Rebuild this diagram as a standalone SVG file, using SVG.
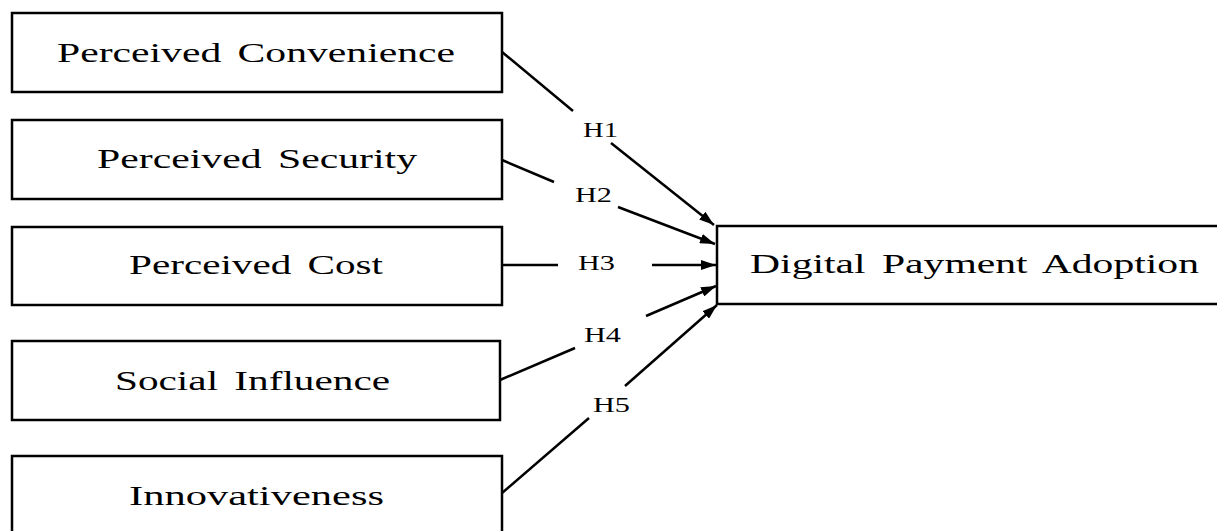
<svg xmlns="http://www.w3.org/2000/svg" width="1217" height="531" viewBox="0 0 1217 531">
<defs>
<style>
.box{fill:#fff;stroke:#000;stroke-width:2.5}
.lbl{font-family:"Liberation Serif","Times New Roman",serif;font-size:28px;word-spacing:4px;fill:#000}
.h{font-family:"Liberation Serif","Times New Roman",serif;font-size:21px;fill:#000}
.ln{stroke:#000;stroke-width:2.5;fill:none}
</style>
<marker id="arr" viewBox="0 0 15 10" refX="15" refY="5" markerWidth="15" markerHeight="10" markerUnits="userSpaceOnUse" orient="auto">
<path d="M0,0 L15,5 L0,10 Z" fill="#000"/>
</marker>
</defs>
<rect width="1217" height="531" fill="#fff"/>
<g id="node-convenience">
<rect class="box" x="12" y="13" width="490" height="79"/>
<text class="lbl" x="57" y="62" textLength="398" lengthAdjust="spacingAndGlyphs">Perceived Convenience</text>
</g>
<g id="node-security">
<rect class="box" x="12" y="120" width="490" height="79"/>
<text class="lbl" x="97" y="168" textLength="320" lengthAdjust="spacingAndGlyphs">Perceived Security</text>
</g>
<g id="node-cost">
<rect class="box" x="12" y="227" width="490" height="78"/>
<text class="lbl" x="129" y="274" textLength="254" lengthAdjust="spacingAndGlyphs">Perceived Cost</text>
</g>
<g id="node-social">
<rect class="box" x="12" y="341" width="488" height="79"/>
<text class="lbl" x="115" y="390" textLength="275" lengthAdjust="spacingAndGlyphs">Social Influence</text>
</g>
<g id="node-innovativeness">
<rect class="box" x="12" y="456" width="490" height="85"/>
<text class="lbl" x="129" y="505" textLength="255" lengthAdjust="spacingAndGlyphs">Innovativeness</text>
</g>
<g id="node-adoption">
<rect class="box" x="717" y="226" width="510" height="78"/>
<text class="lbl" x="750" y="273" textLength="449" lengthAdjust="spacingAndGlyphs">Digital Payment Adoption</text>
</g>
<g id="connectors">
<line class="ln" x1="502" y1="52" x2="573" y2="111"/>
<line class="ln" x1="611" y1="143" x2="714" y2="225" marker-end="url(#arr)"/>
<line class="ln" x1="502" y1="160" x2="554" y2="182"/>
<line class="ln" x1="618" y1="207" x2="715" y2="244" marker-end="url(#arr)"/>
<line class="ln" x1="502" y1="265" x2="558" y2="265"/>
<line class="ln" x1="652" y1="265" x2="716" y2="265" marker-end="url(#arr)"/>
<line class="ln" x1="500" y1="380" x2="575" y2="348"/>
<line class="ln" x1="646" y1="316" x2="716" y2="286" marker-end="url(#arr)"/>
<line class="ln" x1="502" y1="493" x2="589" y2="418"/>
<line class="ln" x1="625" y1="386" x2="717" y2="305" marker-end="url(#arr)"/>
<text class="h" x="583" y="137" textLength="35" lengthAdjust="spacingAndGlyphs">H1</text>
<text class="h" x="575" y="202" textLength="37" lengthAdjust="spacingAndGlyphs">H2</text>
<text class="h" x="578" y="270" textLength="37" lengthAdjust="spacingAndGlyphs">H3</text>
<text class="h" x="584" y="342" textLength="37" lengthAdjust="spacingAndGlyphs">H4</text>
<text class="h" x="593" y="412" textLength="37" lengthAdjust="spacingAndGlyphs">H5</text>
</g>
</svg>
